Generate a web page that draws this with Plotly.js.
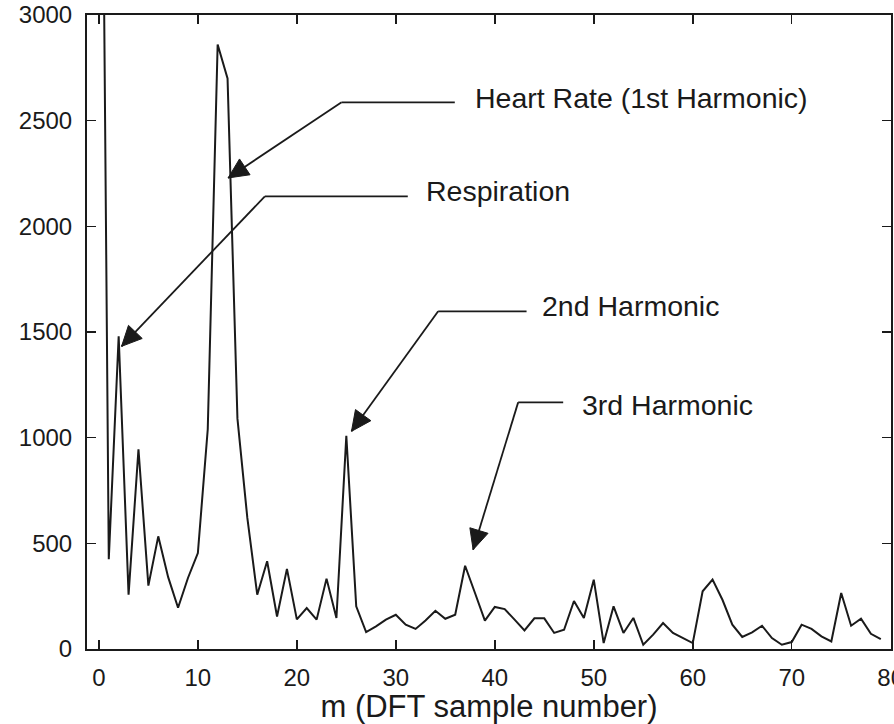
<!DOCTYPE html>
<html>
<head>
<meta charset="utf-8">
<script src="https://cdn.plot.ly/plotly-3.0.1.min.js"></script>
<style>html,body{margin:0;padding:0;background:#fff;}#chart{width:894px;height:724px;}</style>
</head>
<body>
<div id="chart"></div>
<script>
// DFT sample number
const mValues = [0,1,2,3,4,5,6,7,8,9,10,11,12,13,14,15,16,17,18,19,
  20,21,22,23,24,25,26,27,28,29,30,31,32,33,34,35,36,37,38,39,
  40,41,42,43,44,45,46,47,48,49,50,51,52,53,54,55,56,57,58,59,
  60,61,62,63,64,65,66,67,68,69,70,71,72,73,74,75,76,77,78,79];
// DFT magnitude (m=0 value is off-scale)
const magnitude = [6000,425,1480,257,945,300,533,340,195,336,
  454,1040,2860,2700,1090,620,257,415,154,379,
  140,194,139,333,147,1009,202,80,107,139,
  162,115,95,135,181,143,162,394,265,134,
  199,189,139,88,145,145,76,91,227,147,
  328,28,202,76,147,20,68,123,76,52,
  28,273,328,233,115,57,79,110,52,20,
  33,115,95,60,36,265,110,143,72,47];
const xTickVals = [0,10,20,30,40,50,60,70,80];
const yTickVals = [0,500,1000,1500,2000,2500,3000];
const labelTexts = ['Heart Rate (1st Harmonic)','Respiration','2nd Harmonic','3rd Harmonic'];

// callout geometry: arrow tip, bend, end of horizontal leader, text anchor
const callouts = [
  {tip:[13.06,2229], bend:[24.52,2587], end:[35.96,2587], text:[37.8,2609]},
  {tip:[2.29,1432],  bend:[16.77,2142], end:[31.21,2142], text:[32.8,2166]},
  {tip:[25.52,1030], bend:[34.28,1598], end:[43.21,1598], text:[44.6,1621]},
  {tip:[37.81,470],  bend:[42.36,1167], end:[46.91,1167], text:[48.6,1156]}
];

const W = 894, H = 724;
const margin = {l:87, r:3, t:15, b:75};
const xRange = [-1.2, 80.03], yRange = [0, 3000];
const pxPerX = (W - margin.l - margin.r) / (xRange[1] - xRange[0]);
const pxPerY = (H - margin.t - margin.b) / (yRange[1] - yRange[0]);

const ink = '#1a1a1a';
const annotations = [];
const shapes = [];
const headLen = 20, headHalf = 9.5;
callouts.forEach((c,i)=>{
  shapes.push({type:'line', xref:'x', yref:'y', x0:c.end[0], y0:c.end[1], x1:c.bend[0], y1:c.bend[1],
    line:{color:ink, width:1.8}});
  shapes.push({type:'line', xref:'x', yref:'y', x0:c.bend[0], y0:c.bend[1], x1:c.tip[0], y1:c.tip[1],
    line:{color:ink, width:1.8}});
  // filled triangular arrowhead, in pixel offsets from the tip (y up)
  let dx = (c.bend[0]-c.tip[0])*pxPerX, dy = (c.bend[1]-c.tip[1])*pxPerY;
  const len = Math.hypot(dx,dy); dx/=len; dy/=len;
  const bx = dx*headLen, by = dy*headLen;
  const nx = -dy*headHalf, ny = dx*headHalf;
  shapes.push({type:'path', xref:'x', yref:'y', xsizemode:'pixel', ysizemode:'pixel',
    xanchor:c.tip[0], yanchor:c.tip[1],
    path:`M0,0 L${(bx+nx).toFixed(2)},${(by+ny).toFixed(2)} L${(bx-nx).toFixed(2)},${(by-ny).toFixed(2)} Z`,
    fillcolor:ink, line:{color:ink, width:1}});
  annotations.push({x:c.text[0], y:c.text[1], xref:'x', yref:'y', text:labelTexts[i], showarrow:false,
    xanchor:'left', yanchor:'middle', font:{size:28.5, color:ink}});
});

const trace = {x:mValues, y:magnitude, type:'scatter', mode:'lines',
  line:{color:ink, width:2}, hoverinfo:'x+y'};

const axisCommon = {ticks:'inside', ticklen:9, tickwidth:1.5, tickcolor:ink, showline:true,
  linecolor:ink, linewidth:2, mirror:'ticks', showgrid:false, zeroline:false,
  tickfont:{size:24, color:ink}};

const layout = {
  width:W, height:H,
  margin:margin,
  paper_bgcolor:'#fff', plot_bgcolor:'#fff',
  font:{family:'"Liberation Sans", Arial, Helvetica, sans-serif', color:ink},
  showlegend:false,
  xaxis:Object.assign({}, axisCommon, {range:xRange, tickmode:'array', tickvals:xTickVals,
    ticklabelstandoff:6, ticklabeloverflow:'allow',
    title:{text:'m (DFT sample number)', font:{size:31, color:ink}, standoff:5}}),
  yaxis:Object.assign({}, axisCommon, {range:yRange, tickmode:'array', tickvals:yTickVals,
    ticklabelstandoff:8}),
  annotations:annotations,
  shapes:shapes
};

Plotly.newPlot('chart', [trace], layout, {staticPlot:true, displayModeBar:false});
</script>
</body>
</html>
